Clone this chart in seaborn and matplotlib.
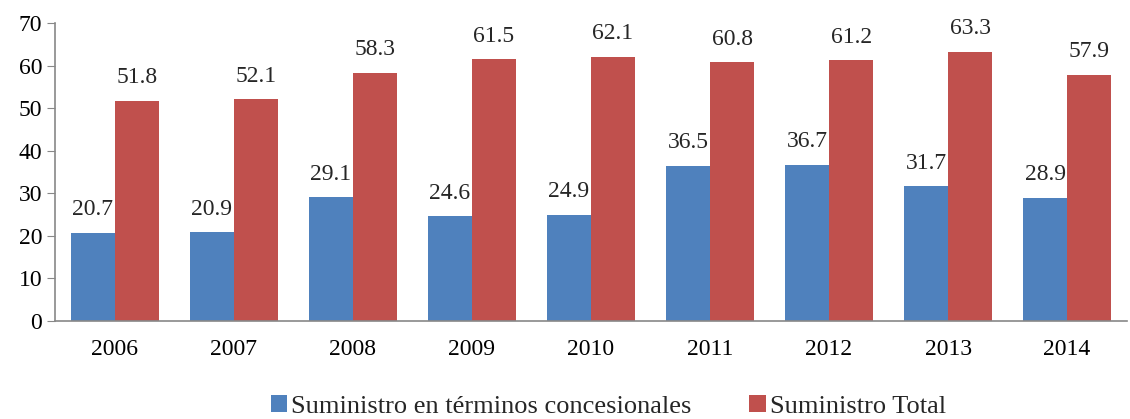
import pandas as pd
import numpy as np
import matplotlib
matplotlib.use("Agg")
import matplotlib.pyplot as plt
import seaborn as sns

years = ["2006", "2007", "2008", "2009", "2010", "2011", "2012", "2013", "2014"]
concesional = [20.7, 20.9, 29.1, 24.6, 24.9, 36.5, 36.7, 31.7, 28.9]
total = [51.8, 52.1, 58.3, 61.5, 62.1, 60.8, 61.2, 63.3, 57.9]
series = ["Suministro en términos concesionales", "Suministro Total"]

df = pd.DataFrame({
    "Año": years * 2,
    "Valor": concesional + total,
    "Serie": [series[0]] * len(years) + [series[1]] * len(years),
})

sns.set_style("white")
plt.rcParams['font.family'] = ['Liberation Serif', 'DejaVu Serif']

fig = plt.figure(figsize=(11.30, 4.19), dpi=100)
ax = fig.add_axes([0.049, 0.234, 0.948, 0.711])
sns.barplot(data=df, x="Año", y="Valor", hue="Serie",
            palette=["#4f81bd", "#c0504d"], width=0.74, saturation=1,
            linewidth=0, ax=ax, legend=True)

for c in ax.containers:
    ax.bar_label(c, fmt="%.1f", padding=9, fontsize=17)

ax.set_ylim(0, 70)
ax.set_yticks(range(0, 71, 10))
ax.set_xlim(-0.5, len(years) - 0.5)
ax.set_xlabel("")
ax.set_ylabel("")
ax.tick_params(axis="both", labelsize=17, colors="black")
ax.tick_params(axis="x", which="major", length=0, pad=13)
ax.set_xticks(np.arange(-0.5, len(years), 1), minor=True)
ax.tick_params(axis="x", which="minor", length=6, color="#888888", direction="out")
ax.tick_params(axis="y", length=6, color="#888888", direction="out", left=True)
for s in ["top", "right"]:
    ax.spines[s].set_visible(False)
for s in ["left", "bottom"]:
    ax.spines[s].set_color("#888888")
    ax.spines[s].set_linewidth(1.2)

ax.legend(loc="center", bbox_to_anchor=(0.516, -0.287), ncol=2, frameon=False,
          fontsize=19, handlelength=0.62, handleheight=0.62, handletextpad=0.15,
          columnspacing=2.2)

fig.savefig("out.png", dpi=100)
